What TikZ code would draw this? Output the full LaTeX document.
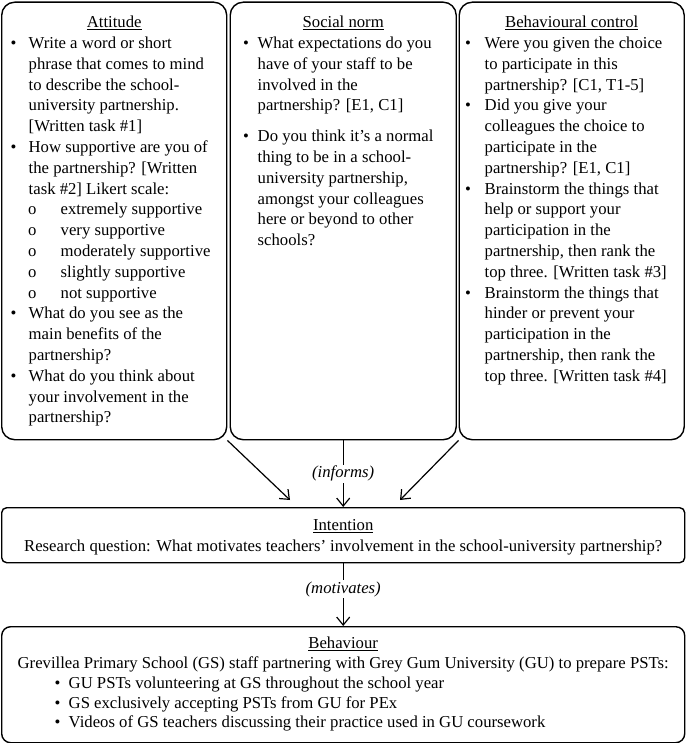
\documentclass[tikz,border=0pt]{standalone}
\usepackage{fontspec}
\setmainfont{Liberation Serif}
\usetikzlibrary{arrows.meta}

\newcommand{\qitem}[2]{\par\hangindent=#2\hangafter=1\noindent\makebox[#2][l]{\hspace{#1}\textbullet}}
\newcommand{\qsub}{\par\hangindent=59pt\noindent\makebox[59pt][l]{\hspace{26.5pt}o}}

\tikzset{
  panel/.style={draw, line width=1.4pt, rounded corners=13pt, inner sep=0pt, anchor=north west,
    font=\fontsize{16.7}{20.8}\selectfont},
  band/.style={draw, line width=1.4pt, inner sep=0pt, anchor=north west,
    font=\fontsize{16.7}{20.8}\selectfont},
  link/.style={line width=1.2pt, -{Straight Barb[length=8pt,width=13pt]}},
  verb/.style={fill=white, inner sep=1.5pt, font=\fontsize{16.7}{20.8}\selectfont\itshape}
}

\begin{document}
\begin{tikzpicture}[x=1pt,y=-1pt]
  \useasboundingbox (0,0) rectangle (685,743);

  \node[panel] (attitude) at (1,1.5) {\begin{minipage}[c][437.5pt][t]{225pt}
    \raggedright\vspace*{14pt}
    {\centering\underline{Attitude}\par}
    \qitem{9pt}{27pt}Write a word or short\newline phrase that comes to mind\newline to describe the school-\newline university partnership.\newline [Written task \#1]
    \qitem{9pt}{27pt}How supportive are you of\newline the partnership? [Written\newline task \#2] Likert scale:
    \qsub extremely supportive
    \qsub very supportive
    \qsub moderately supportive
    \qsub slightly supportive
    \qsub not supportive
    \qitem{9pt}{27pt}What do you see as the\newline main benefits of the\newline partnership?
    \qitem{9pt}{27pt}What do you think about\newline your involvement in the\newline partnership?
  \end{minipage}};

  \node[panel] (norm) at (229.5,1.5) {\begin{minipage}[c][437.5pt][t]{226pt}
    \raggedright\vspace*{14pt}
    {\centering\underline{Social norm}\par}
    \qitem{13pt}{27.5pt}What expectations do you\newline have of your staff to be\newline involved in the\newline partnership? [E1, C1]\par
    \vspace{10pt}
    \qitem{13pt}{27.5pt}Do you think it’s a normal\newline thing to be in a school-\newline university partnership,\newline amongst your colleagues\newline here or beyond to other\newline schools?
  \end{minipage}};

  \node[panel] (control) at (458.5,1.5) {\begin{minipage}[c][437.5pt][t]{225pt}
    \raggedright\vspace*{14pt}
    {\centering\underline{Behavioural control}\par}
    \qitem{6pt}{25.5pt}Were you given the choice\newline to participate in this\newline partnership? [C1, T1-5]
    \qitem{6pt}{25.5pt}Did you give your\newline colleagues the choice to\newline participate in the\newline partnership? [E1, C1]
    \qitem{6pt}{25.5pt}Brainstorm the things that\newline help or support your\newline participation in the\newline partnership, then rank the\newline top three. [Written task \#3]
    \qitem{6pt}{25.5pt}Brainstorm the things that\newline hinder or prevent your\newline participation in the\newline partnership, then rank the\newline top three. [Written task \#4]
  \end{minipage}};

  \node[band, rounded corners=5pt] (intention) at (1,507) {\begin{minipage}[c][55pt][t]{683pt}
    \centering\vspace*{11.5pt}
    \underline{Intention}\\
    Research question: What motivates teachers’ involvement in the school-university partnership?
  \end{minipage}};

  \node[band, rounded corners=9pt] (behaviour) at (1,626) {\begin{minipage}[c][116pt][t]{683pt}
    \fontsize{16.7}{19.8}\selectfont\vspace*{10.5pt}
    {\centering\underline{Behaviour}\\
    Grevillea Primary School (GS) staff partnering with Grey Gum University (GU) to prepare PSTs:\par}
    \noindent\makebox[67pt][l]{\hspace{53pt}\textbullet}GU PSTs volunteering at GS throughout the school year\par
    \noindent\makebox[67pt][l]{\hspace{53pt}\textbullet}GS exclusively accepting PSTs from GU for PEx\par
    \noindent\makebox[67pt][l]{\hspace{53pt}\textbullet}Videos of GS teachers discussing their practice used in GU coursework
  \end{minipage}};

  \coordinate (atin) at (290,500);
  \coordinate (ctin) at (400,500);
  \draw[link] (attitude.south east) -- (atin);
  \draw[link] (control.south west) -- (ctin);
  \draw[link] (norm.south) -- node[verb]{(informs)} (intention.north);
  \draw[link] (intention.south) -- node[verb, pos=0.41]{(motivates)} (behaviour.north);
\end{tikzpicture}
\end{document}
